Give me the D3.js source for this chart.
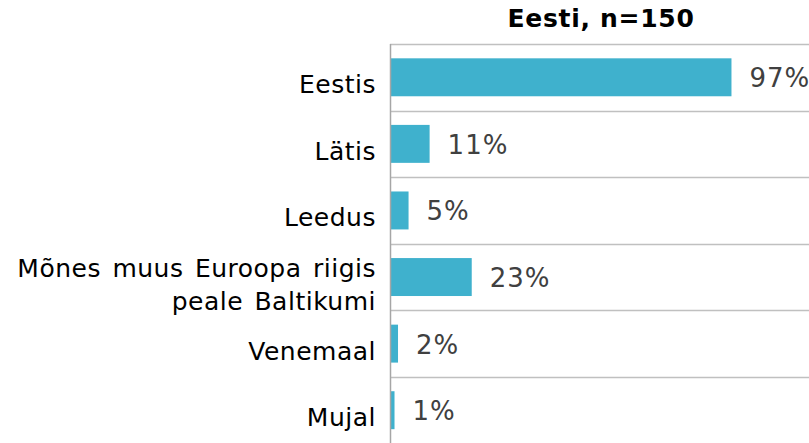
<!DOCTYPE html>
<html>
<head>
<meta charset="utf-8">
<script src="https://cdn.jsdelivr.net/npm/d3@7"></script>
<style>
  body { margin: 0; background: #fff; }
  svg { display: block; font-family: Verdana, "DejaVu Sans", sans-serif; }
</style>
</head>
<body>
<div id="chart"></div>
<script>
const categories = ['Eestis', 'Lätis', 'Leedus', 'Mõnes muus Euroopa riigis|peale Baltikumi', 'Venemaal', 'Mujal'];
const values = [0.97, 0.11, 0.05, 0.23, 0.02, 0.01];
const title = 'Eesti, n=150';

const width = 809;
const height = 443;
const margin = { top: 44, left: 390, right: 0, bottom: 0 };

const svg = d3.select('#chart').append('svg')
  .attr('width', width)
  .attr('height', height);

const x = d3.scaleLinear()
  .domain([0, 1])
  .range([margin.left, margin.left + 351]);

const y = d3.scaleBand()
  .domain(categories)
  .range([margin.top, height + 0.5])
  .paddingInner(0.43)
  .paddingOuter(0.215);

const step = y.step();

// title
svg.append('text')
  .attr('x', 601)
  .attr('y', 27)
  .attr('text-anchor', 'middle')
  .attr('font-size', 25)
  .attr('font-weight', 'bold')
  .attr('letter-spacing', 0.7)
  .attr('fill', '#000')
  .text(title);

// separators
svg.selectAll('.sep')
  .data(d3.range(categories.length + 1))
  .enter()
  .append('line')
  .attr('class', 'sep')
  .attr('x1', margin.left)
  .attr('x2', width)
  .attr('y1', i => Math.round(margin.top + i * step) + 0.5)
  .attr('y2', i => Math.round(margin.top + i * step) + 0.5)
  .attr('stroke', '#c0c0c0')
  .attr('stroke-width', 1.5);

// bars
svg.selectAll('.bar')
  .data(categories)
  .enter()
  .append('rect')
  .attr('class', 'bar')
  .attr('x', x(0) + 1)
  .attr('y', d => y(d))
  .attr('width', (d, i) => x(values[i]) - x(0))
  .attr('height', y.bandwidth())
  .attr('fill', '#3fb1cd');

// axis line
svg.append('line')
  .attr('x1', margin.left + 0.5)
  .attr('x2', margin.left + 0.5)
  .attr('y1', margin.top)
  .attr('y2', height)
  .attr('stroke', '#a6a6a6')
  .attr('stroke-width', 1.5);

// value labels
svg.selectAll('.val')
  .data(categories)
  .enter()
  .append('text')
  .attr('class', 'val')
  .attr('x', (d, i) => x(values[i]) + 19)
  .attr('y', d => y(d) + y.bandwidth() / 2 + 10)
  .attr('font-size', 26)
  .attr('letter-spacing', 1)
  .attr('fill', '#404040')
  .text((d, i) => `${Math.round(values[i] * 100)}%`);

// category labels
const cat = svg.selectAll('.cat')
  .data(categories)
  .enter()
  .append('text')
  .attr('class', 'cat')
  .attr('text-anchor', 'end')
  .attr('font-size', 25)
  .attr('letter-spacing', 0.5)
  .attr('word-spacing', 3)
  .attr('fill', '#000');

cat.each(function (d) {
  const lines = d.split('|');
  const mid = y(d) + y.bandwidth() / 2 + 16;
  const lh = 33;
  lines.forEach((t, j) => {
    d3.select(this).append('tspan')
      .attr('x', 376)
      .attr('y', mid + (j - (lines.length - 1) / 2) * lh)
      .text(t);
  });
});
</script>
</body>
</html>
